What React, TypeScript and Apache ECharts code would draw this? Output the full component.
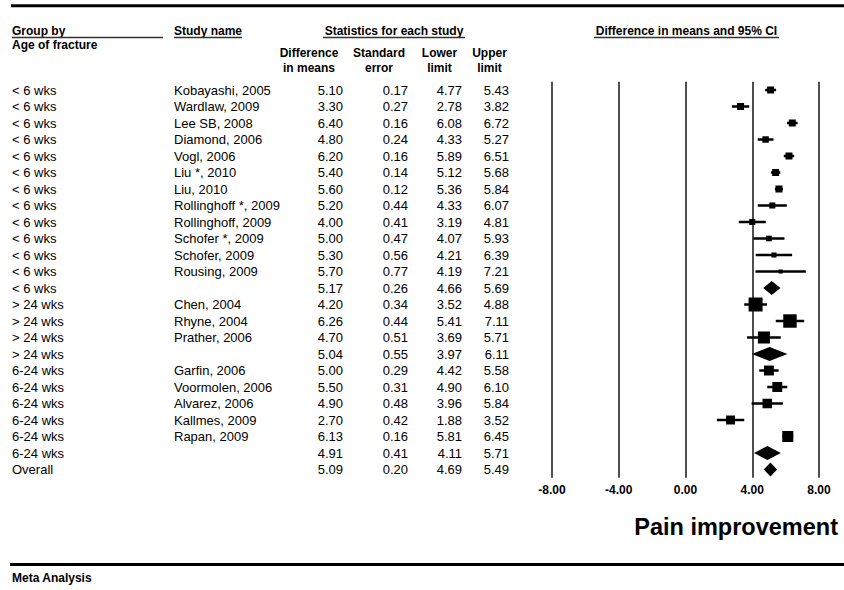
import React, { useEffect, useRef } from "react";
import * as echarts from "echarts";

const groups = [
  "< 6 wks", "< 6 wks", "< 6 wks", "< 6 wks", "< 6 wks", "< 6 wks", "< 6 wks",
  "< 6 wks", "< 6 wks", "< 6 wks", "< 6 wks", "< 6 wks", "< 6 wks",
  "> 24 wks", "> 24 wks", "> 24 wks", "> 24 wks",
  "6-24 wks", "6-24 wks", "6-24 wks", "6-24 wks", "6-24 wks", "6-24 wks",
  "Overall",
];
const studies = [
  "Kobayashi, 2005", "Wardlaw, 2009", "Lee SB, 2008", "Diamond, 2006", "Vogl, 2006",
  "Liu *, 2010", "Liu, 2010", "Rollinghoff *, 2009", "Rollinghoff, 2009",
  "Schofer *, 2009", "Schofer, 2009", "Rousing, 2009", "",
  "Chen, 2004", "Rhyne, 2004", "Prather, 2006", "",
  "Garfin, 2006", "Voormolen, 2006", "Alvarez, 2006", "Kallmes, 2009", "Rapan, 2009", "",
  "",
];
const means = [5.10, 3.30, 6.40, 4.80, 6.20, 5.40, 5.60, 5.20, 4.00, 5.00, 5.30, 5.70, 5.17,
  4.20, 6.26, 4.70, 5.04, 5.00, 5.50, 4.90, 2.70, 6.13, 4.91, 5.09];
const stdErr = [0.17, 0.27, 0.16, 0.24, 0.16, 0.14, 0.12, 0.44, 0.41, 0.47, 0.56, 0.77, 0.26,
  0.34, 0.44, 0.51, 0.55, 0.29, 0.31, 0.48, 0.42, 0.16, 0.41, 0.20];
const lower = [4.77, 2.78, 6.08, 4.33, 5.89, 5.12, 5.36, 4.33, 3.19, 4.07, 4.21, 4.19, 4.66,
  3.52, 5.41, 3.69, 3.97, 4.42, 4.90, 3.96, 1.88, 5.81, 4.11, 4.69];
const upper = [5.43, 3.82, 6.72, 5.27, 6.51, 5.68, 5.84, 6.07, 4.81, 5.93, 6.39, 7.21, 5.69,
  4.88, 7.11, 5.71, 6.11, 5.58, 6.10, 5.84, 3.52, 6.45, 5.71, 5.49];
// relative weight of each study; null = summary row (diamond)
const weights = [50, 50, 50, 46, 50, 50, 50, 43, 43, 40, 36, 29, null,
  100, 96, 86, null, 71, 71, 68, 64, 79, null, null];
const xTicks = [-8, -4, 0, 4, 8];

const FONT = "'Liberation Sans', Arial, sans-serif";

export default function App() {
  const ref = useRef<HTMLDivElement>(null);
  useEffect(() => {
    if (!ref.current) return;
    const chart = echarts.init(ref.current, null, { renderer: "svg" });
    const rows = groups.map((_, i) => String(i));
    const gridLeft = 552;
    const textAxis = (fmt: (i: number) => string, offset: number, align: string) => ({
      type: "category",
      gridIndex: 0,
      data: rows,
      inverse: true,
      position: "left",
      offset,
      axisLine: { show: false },
      axisTick: { show: false },
      splitLine: { show: false },
      axisLabel: {
        interval: 0,
        margin: 0,
        align,
        color: "#000",
        fontSize: 13,
        fontFamily: FONT,
        formatter: (_v: string, i: number) => fmt(i),
      },
    });

    const studyData: number[][] = [];
    const summaryData: number[][] = [];
    means.forEach((m, i) => {
      if (weights[i] == null) summaryData.push([i, m, lower[i], upper[i]]);
      else studyData.push([i, m, lower[i], upper[i], weights[i] as number]);
    });

    const txt = (text: string, x: number, y: number, align = "left", size = 12) => ({
      type: "text",
      x,
      y,
      silent: true,
      style: {
        text,
        fill: "#000",
        font: `bold ${size}px ${FONT}`,
        textAlign: align,
        textVerticalAlign: "middle",
      },
    });
    const ln = (x1: number, y1: number, x2: number, y2: number, w: number, c = "#000") => ({
      type: "line",
      silent: true,
      shape: { x1, y1, x2, y2 },
      style: { stroke: c, lineWidth: w },
    });

    chart.setOption({
      animation: false,
      backgroundColor: "#fff",
      textStyle: { fontFamily: FONT },
      grid: {
        left: gridLeft,
        right: 25,
        top: 81.75,
        height: 396,
        outerBoundsMode: "none",
        containLabel: false,
      },
      xAxis: {
        type: "value",
        min: -8,
        max: 8,
        interval: 4,
        axisLine: { show: false },
        axisTick: { show: false },
        splitLine: { show: true, showMinLine: true, showMaxLine: true, lineStyle: { color: "#222", width: 1.6 } },
        axisLabel: {
          margin: 6,
          color: "#000",
          fontWeight: "bold",
          fontSize: 12,
          fontFamily: FONT,
          formatter: (v: number) => (xTicks.includes(v) ? v.toFixed(2) : ""),
        },
      },
      yAxis: [
        {
          type: "category",
          data: rows,
          inverse: true,
          axisLine: { show: false },
          axisTick: { show: false },
          axisLabel: { show: false },
          splitLine: { show: false },
        },
        textAxis((i) => groups[i], gridLeft - 12, "left"),
        textAxis((i) => studies[i], gridLeft - 174, "left"),
        textAxis((i) => means[i].toFixed(2), gridLeft - 343, "right"),
        textAxis((i) => stdErr[i].toFixed(2), gridLeft - 408, "right"),
        textAxis((i) => lower[i].toFixed(2), gridLeft - 462, "right"),
        textAxis((i) => upper[i].toFixed(2), gridLeft - 509, "right"),
      ],
      series: [
        {
          type: "custom",
          name: "studies",
          xAxisIndex: 0,
          yAxisIndex: 0,
          encode: { x: [1, 2, 3], y: 0 },
          data: studyData,
          renderItem: (_p: any, api: any) => {
            const y = api.value(0);
            const c = api.coord([api.value(1), y]);
            const lo = api.coord([api.value(2), y]);
            const hi = api.coord([api.value(3), y]);
            const s = (api.value(4) / 100) * 14;
            return {
              type: "group",
              children: [
                { type: "line", shape: { x1: lo[0], y1: c[1], x2: hi[0], y2: c[1] }, style: { stroke: "#000", lineWidth: 2.5 } },
                { type: "rect", shape: { x: c[0] - s / 2, y: c[1] - s / 2, width: s, height: s }, style: { fill: "#000" } },
              ],
            };
          },
        },
        {
          type: "custom",
          name: "summaries",
          xAxisIndex: 0,
          yAxisIndex: 0,
          encode: { x: [1, 2, 3], y: 0 },
          data: summaryData,
          renderItem: (_p: any, api: any) => {
            const y = api.value(0);
            const c = api.coord([api.value(1), y]);
            const lo = api.coord([api.value(2), y]);
            const hi = api.coord([api.value(3), y]);
            const h = 7;
            return {
              type: "polygon",
              shape: { points: [[lo[0], c[1]], [c[0], c[1] - h], [hi[0], c[1]], [c[0], c[1] + h]] },
              style: { fill: "#000" },
            };
          },
        },
      ],
      graphic: [
        ln(11, 5.75, 844, 5.75, 3),
        ln(10, 564.5, 844, 564.5, 3),
        txt("Group by", 12, 31),
        ln(12, 37.5, 163, 37.5, 1.3, "#333"),
        txt("Age of fracture", 12, 45),
        txt("Study name", 174, 31),
        ln(174, 37.5, 242, 37.5, 1.3, "#333"),
        txt("Statistics for each study", 394, 31, "center"),
        ln(323, 37.5, 465, 37.5, 1.3, "#333"),
        txt("Difference in means and 95% CI", 686.5, 31, "center"),
        ln(594, 37.5, 779, 37.5, 1.3, "#333"),
        txt("Difference", 309, 53, "center"),
        txt("in means", 309, 68, "center"),
        txt("Standard", 379, 53, "center"),
        txt("error", 379, 68, "center"),
        txt("Lower", 439.5, 53, "center"),
        txt("limit", 439.5, 68, "center"),
        txt("Upper", 489.5, 53, "center"),
        txt("limit", 489.5, 68, "center"),
        txt("Pain improvement", 838, 527, "right", 23.5),
        txt("Meta Analysis", 12, 578),
      ],
    });
    return () => chart.dispose();
  }, []);
  return (
    <div
      ref={ref}
      style={{ position: "absolute", left: 0, top: 0, width: 844, height: 590, background: "#fff" }}
    />
  );
}
